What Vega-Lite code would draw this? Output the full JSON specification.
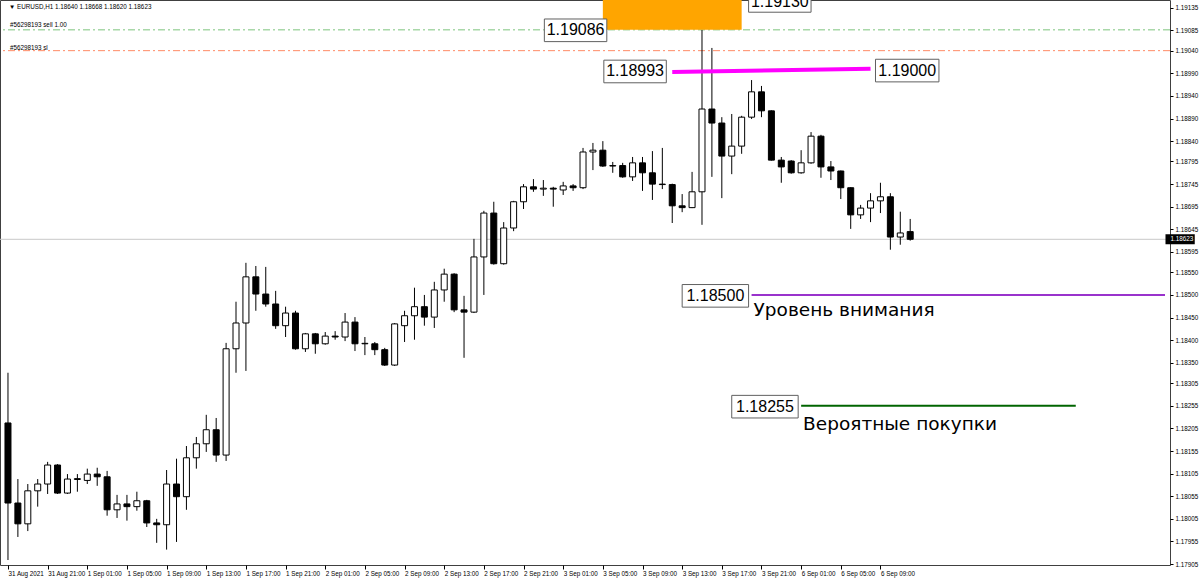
{
  "$schema": "https://vega.github.io/schema/vega-lite/v6.json",
  "width": 1170,
  "height": 565,
  "autosize": {"type": "none"},
  "padding": {"left": 0, "top": 0, "right": 30, "bottom": 14},
  "background": "white",
  "config": {
    "view": {"stroke": "#404040", "strokeWidth": 1},
    "axis": {"grid": false, "domain": false, "tickColor": "#000", "labelColor": "#000", "labelFont": "Liberation Sans", "labelFontSize": 6.3, "labelOverlap": false, "labelFlush": false, "title": null}
  },
  "datasets": {
    "candles": [
      {"i":0,"o":1.18217,"h":1.18328,"l":1.17914,"c":1.18040},
      {"i":1,"o":1.18040,"h":1.18093,"l":1.17965,"c":1.17994},
      {"i":2,"o":1.17994,"h":1.18082,"l":1.17978,"c":1.18067},
      {"i":3,"o":1.18067,"h":1.18093,"l":1.18032,"c":1.18082},
      {"i":4,"o":1.18082,"h":1.18131,"l":1.18060,"c":1.18124},
      {"i":5,"o":1.18124,"h":1.18126,"l":1.18060,"c":1.18062},
      {"i":6,"o":1.18062,"h":1.18104,"l":1.18060,"c":1.18093},
      {"i":7,"o":1.18092,"h":1.18104,"l":1.18065,"c":1.18094},
      {"i":8,"o":1.18090,"h":1.18116,"l":1.18082,"c":1.18104},
      {"i":9,"o":1.18104,"h":1.18118,"l":1.18078,"c":1.18098},
      {"i":10,"o":1.18098,"h":1.18111,"l":1.18012,"c":1.18025},
      {"i":11,"o":1.18025,"h":1.18058,"l":1.18007,"c":1.18038},
      {"i":12,"o":1.18038,"h":1.18058,"l":1.18001,"c":1.18032},
      {"i":13,"o":1.18032,"h":1.18065,"l":1.18023,"c":1.18045},
      {"i":14,"o":1.18045,"h":1.18047,"l":1.17987,"c":1.17996},
      {"i":15,"o":1.17996,"h":1.18005,"l":1.17952,"c":1.17992},
      {"i":16,"o":1.17992,"h":1.18113,"l":1.17937,"c":1.18082},
      {"i":17,"o":1.18082,"h":1.18138,"l":1.17954,"c":1.18054},
      {"i":18,"o":1.18054,"h":1.18166,"l":1.18025,"c":1.18140},
      {"i":19,"o":1.18140,"h":1.18186,"l":1.18116,"c":1.18171},
      {"i":20,"o":1.18171,"h":1.18235,"l":1.18153,"c":1.18202},
      {"i":21,"o":1.18202,"h":1.18228,"l":1.18131,"c":1.18146},
      {"i":22,"o":1.18146,"h":1.18394,"l":1.18133,"c":1.18381},
      {"i":23,"o":1.18381,"h":1.18485,"l":1.18328,"c":1.18438},
      {"i":24,"o":1.18438,"h":1.18571,"l":1.18332,"c":1.18540},
      {"i":25,"o":1.18540,"h":1.18564,"l":1.18465,"c":1.18502},
      {"i":26,"o":1.18502,"h":1.18562,"l":1.18474,"c":1.18480},
      {"i":27,"o":1.18480,"h":1.18509,"l":1.18425,"c":1.18432},
      {"i":28,"o":1.18432,"h":1.18474,"l":1.18407,"c":1.18460},
      {"i":29,"o":1.18460,"h":1.18465,"l":1.18379,"c":1.18381},
      {"i":30,"o":1.18381,"h":1.18416,"l":1.18374,"c":1.18414},
      {"i":31,"o":1.18414,"h":1.18416,"l":1.18370,"c":1.18392},
      {"i":32,"o":1.18392,"h":1.18418,"l":1.18390,"c":1.18409},
      {"i":33,"o":1.18409,"h":1.18420,"l":1.18401,"c":1.18407},
      {"i":34,"o":1.18407,"h":1.18460,"l":1.18398,"c":1.18440},
      {"i":35,"o":1.18440,"h":1.18451,"l":1.18376,"c":1.18392},
      {"i":36,"o":1.18392,"h":1.18407,"l":1.18367,"c":1.18393},
      {"i":37,"o":1.18392,"h":1.18396,"l":1.18367,"c":1.18379},
      {"i":38,"o":1.18379,"h":1.18383,"l":1.18343,"c":1.18345},
      {"i":39,"o":1.18345,"h":1.18438,"l":1.18343,"c":1.18436},
      {"i":40,"o":1.18432,"h":1.18465,"l":1.18396,"c":1.18454},
      {"i":41,"o":1.18454,"h":1.18516,"l":1.18401,"c":1.18474},
      {"i":42,"o":1.18474,"h":1.18500,"l":1.18432,"c":1.18451},
      {"i":43,"o":1.18451,"h":1.18529,"l":1.18427,"c":1.18511},
      {"i":44,"o":1.18511,"h":1.18558,"l":1.18485,"c":1.18546},
      {"i":45,"o":1.18546,"h":1.18548,"l":1.18462,"c":1.18467},
      {"i":46,"o":1.18467,"h":1.18498,"l":1.18361,"c":1.18462},
      {"i":47,"o":1.18462,"h":1.18624,"l":1.18460,"c":1.18584},
      {"i":48,"o":1.18584,"h":1.18686,"l":1.18500,"c":1.18681},
      {"i":49,"o":1.18681,"h":1.18706,"l":1.18567,"c":1.18569},
      {"i":50,"o":1.18569,"h":1.18661,"l":1.18567,"c":1.18648},
      {"i":51,"o":1.18648,"h":1.18708,"l":1.18641,"c":1.18706},
      {"i":52,"o":1.18706,"h":1.18745,"l":1.18690,"c":1.18739},
      {"i":53,"o":1.18739,"h":1.18756,"l":1.18728,"c":1.18734},
      {"i":54,"o":1.18734,"h":1.18754,"l":1.18719,"c":1.18736},
      {"i":55,"o":1.18736,"h":1.18739,"l":1.18695,"c":1.18734},
      {"i":56,"o":1.18732,"h":1.18750,"l":1.18721,"c":1.18741},
      {"i":57,"o":1.18741,"h":1.18745,"l":1.18730,"c":1.18737},
      {"i":58,"o":1.18737,"h":1.18825,"l":1.18734,"c":1.18816},
      {"i":59,"o":1.18816,"h":1.18836,"l":1.18776,"c":1.18820},
      {"i":60,"o":1.18820,"h":1.18840,"l":1.18783,"c":1.18785},
      {"i":61,"o":1.18785,"h":1.18794,"l":1.18770,"c":1.18786},
      {"i":62,"o":1.18786,"h":1.18792,"l":1.18759,"c":1.18761},
      {"i":63,"o":1.18761,"h":1.18805,"l":1.18752,"c":1.18792},
      {"i":64,"o":1.18792,"h":1.18805,"l":1.18730,"c":1.18770},
      {"i":65,"o":1.18770,"h":1.18818,"l":1.18710,"c":1.18745},
      {"i":66,"o":1.18745,"h":1.18825,"l":1.18734,"c":1.18744},
      {"i":67,"o":1.18744,"h":1.18746,"l":1.18659,"c":1.18697},
      {"i":68,"o":1.18697,"h":1.18723,"l":1.18683,"c":1.18693},
      {"i":69,"o":1.18693,"h":1.18772,"l":1.18692,"c":1.18728},
      {"i":70,"o":1.18728,"h":1.19086,"l":1.18655,"c":1.18911},
      {"i":71,"o":1.18911,"h":1.19046,"l":1.18761,"c":1.18880},
      {"i":72,"o":1.18880,"h":1.18893,"l":1.18714,"c":1.18807},
      {"i":73,"o":1.18807,"h":1.18900,"l":1.18767,"c":1.18829},
      {"i":74,"o":1.18829,"h":1.18896,"l":1.18812,"c":1.18893},
      {"i":75,"o":1.18893,"h":1.18975,"l":1.18889,"c":1.18949},
      {"i":76,"o":1.18949,"h":1.18962,"l":1.18893,"c":1.18907},
      {"i":77,"o":1.18907,"h":1.18908,"l":1.18797,"c":1.18798},
      {"i":78,"o":1.18798,"h":1.18805,"l":1.18748,"c":1.18783},
      {"i":79,"o":1.18796,"h":1.18798,"l":1.18768,"c":1.18770},
      {"i":80,"o":1.18770,"h":1.18820,"l":1.18768,"c":1.18792},
      {"i":81,"o":1.18792,"h":1.18860,"l":1.18790,"c":1.18851},
      {"i":82,"o":1.18851,"h":1.18854,"l":1.18759,"c":1.18783},
      {"i":83,"o":1.18783,"h":1.18796,"l":1.18754,"c":1.18774},
      {"i":84,"o":1.18774,"h":1.18775,"l":1.18712,"c":1.18737},
      {"i":85,"o":1.18737,"h":1.18738,"l":1.18646,"c":1.18677},
      {"i":86,"o":1.18677,"h":1.18699,"l":1.18668,"c":1.18692},
      {"i":87,"o":1.18692,"h":1.18725,"l":1.18661,"c":1.18708},
      {"i":88,"o":1.18708,"h":1.18748,"l":1.18681,"c":1.18717},
      {"i":89,"o":1.18717,"h":1.18725,"l":1.18600,"c":1.18628},
      {"i":90,"o":1.18628,"h":1.18684,"l":1.18611,"c":1.18637},
      {"i":91,"o":1.18640,"h":1.18668,"l":1.18620,"c":1.18623}
    ],
    "tags": [
      {"label":"1.19086","x1":54.1,"x2":60.4,"xc":57.25,"ytop":1.19110,"ybot":1.19060,"yc":1.19085},
      {"label":"1.19130","x1":74.7,"x2":81.0,"xc":77.85,"ytop":1.19175,"ybot":1.19125,"yc":1.19148},
      {"label":"1.18993","x1":60.1,"x2":66.4,"xc":63.25,"ytop":1.19019,"ybot":1.18969,"yc":1.18994},
      {"label":"1.19000","x1":87.5,"x2":93.9,"xc":90.7,"ytop":1.19021,"ybot":1.18971,"yc":1.18996},
      {"label":"1.18500","x1":68.0,"x2":74.7,"xc":71.35,"ytop":1.18523,"ybot":1.18473,"yc":1.18498},
      {"label":"1.18255","x1":73.0,"x2":79.7,"xc":76.35,"ytop":1.18278,"ybot":1.18228,"yc":1.18253}
    ]
  },
  "layer": [
    {
      "data": {"values": [{"p": 1.18623}]},
      "mark": {"type": "rule", "color": "#c8c8c8", "strokeWidth": 1},
      "encoding": {"y": {"field": "p", "type": "quantitative",
        "scale": {"domain": [1.17903, 1.19152], "nice": false, "zero": false},
        "axis": {"orient": "right", "tickCount": 60, "values": [1.19135,1.19085,1.1904,1.1899,1.1894,1.1889,1.1884,1.18795,1.18745,1.18695,1.18645,1.18595,1.1855,1.185,1.1845,1.184,1.1835,1.18305,1.18255,1.18205,1.18155,1.18105,1.18055,1.18005,1.17955,1.17905], "format": ".5f", "tickSize": 3, "labelPadding": 2, "labelBaseline": "middle", "labelOverlap": false, "labelFlush": false, "labelBound": false}}}
    },
    {
      "data": {"values": [{"p": 1.19086}]},
      "mark": {"type": "rule", "color": "#7cc47c", "strokeWidth": 1, "strokeDash": [7, 3, 2, 3]},
      "encoding": {"y": {"field": "p", "type": "quantitative"}}
    },
    {
      "data": {"values": [{"p": 1.19040}]},
      "mark": {"type": "rule", "color": "#ff8a65", "strokeWidth": 1, "strokeDash": [7, 3, 2, 3]},
      "encoding": {"y": {"field": "p", "type": "quantitative"}}
    },
    {
      "data": {"name": "candles"},
      "mark": {"type": "rule", "color": "#000", "strokeWidth": 1},
      "encoding": {
        "x": {"field": "i", "type": "quantitative", "scale": {"domain": [-0.3, 116.7], "nice": false, "zero": false}, "axis": {"orient": "bottom", "tickCount": 60, "values": [0,4,8,12,16,20,24,28,32,36,40,44,48,52,56,60,64,68,72,76,80,84,88], "labelExpr": "['31 Aug 2021','31 Aug 21:00','1 Sep 01:00','1 Sep 05:00','1 Sep 09:00','1 Sep 13:00','1 Sep 17:00','1 Sep 21:00','2 Sep 01:00','2 Sep 05:00','2 Sep 09:00','2 Sep 13:00','2 Sep 17:00','2 Sep 21:00','3 Sep 01:00','3 Sep 05:00','3 Sep 09:00','3 Sep 13:00','3 Sep 17:00','3 Sep 21:00','6 Sep 01:00','6 Sep 05:00','6 Sep 09:00'][round(datum.value/4)]", "labelAlign": "left", "labelBaseline": "top", "labelPadding": 1, "labelDx": 0, "tickSize": 4, "labelOverlap": false}},
        "y": {"field": "l", "type": "quantitative"},
        "y2": {"field": "h"}
      }
    },
    {
      "data": {"name": "candles"},
      "mark": {"type": "bar", "orient": "vertical", "width": 6, "stroke": "#000", "strokeWidth": 1},
      "encoding": {
        "x": {"field": "i", "type": "quantitative"},
        "y": {"field": "o", "type": "quantitative"},
        "y2": {"field": "c"},
        "fill": {"condition": {"test": "datum.c > datum.o", "value": "#ffffff"}, "value": "#000000"}
      }
    },
    {
      "data": {"values": [{"x1": 60, "x2": 74, "p1": 1.19086, "p2": 1.19165}]},
      "mark": {"type": "rect", "color": "#ffa500"},
      "encoding": {
        "x": {"field": "x1", "type": "quantitative"}, "x2": {"field": "x2"},
        "y": {"field": "p1", "type": "quantitative"}, "y2": {"field": "p2"}
      }
    },
    {
      "data": {"values": [{"x1": 67, "x2": 87, "p1": 1.18993, "p2": 1.19000}]},
      "mark": {"type": "rule", "color": "#ff00ff", "strokeWidth": 4},
      "encoding": {
        "x": {"field": "x1", "type": "quantitative"}, "x2": {"field": "x2"},
        "y": {"field": "p1", "type": "quantitative"}, "y2": {"field": "p2"}
      }
    },
    {
      "data": {"values": [{"x1": 75, "x2": 116.7, "p": 1.18500}]},
      "mark": {"type": "rule", "color": "#9932cc", "strokeWidth": 2},
      "encoding": {
        "x": {"field": "x1", "type": "quantitative"}, "x2": {"field": "x2"},
        "y": {"field": "p", "type": "quantitative"}
      }
    },
    {
      "data": {"values": [{"x1": 80, "x2": 107.7, "p": 1.18255}]},
      "mark": {"type": "rule", "color": "#006400", "strokeWidth": 2},
      "encoding": {
        "x": {"field": "x1", "type": "quantitative"}, "x2": {"field": "x2"},
        "y": {"field": "p", "type": "quantitative"}
      }
    },
    {
      "data": {"name": "tags"},
      "mark": {"type": "rect", "fill": "#ffffff", "stroke": "#606060", "strokeWidth": 1},
      "encoding": {
        "x": {"field": "x1", "type": "quantitative"}, "x2": {"field": "x2"},
        "y": {"field": "ytop", "type": "quantitative"}, "y2": {"field": "ybot"}
      }
    },
    {
      "data": {"name": "tags"},
      "mark": {"type": "text", "font": "Liberation Sans", "fontSize": 16, "color": "#000", "align": "center", "baseline": "middle"},
      "encoding": {
        "x": {"field": "xc", "type": "quantitative"},
        "y": {"field": "yc", "type": "quantitative"},
        "text": {"field": "label"}
      }
    },
    {
      "data": {"values": [
        {"x": 75.2, "p": 1.18466, "label": "Уровень внимания"},
        {"x": 80.2, "p": 1.18214, "label": "Вероятные покупки"}
      ]},
      "mark": {"type": "text", "font": "DejaVu Sans", "fontSize": 18.5, "color": "#000", "align": "left", "baseline": "middle"},
      "encoding": {
        "x": {"field": "x", "type": "quantitative"},
        "y": {"field": "p", "type": "quantitative"},
        "text": {"field": "label"}
      }
    },
    {
      "data": {"values": [
        {"x": 0.1, "p": 1.19137, "label": "▼ EURUSD,H1  1.18640 1.18668 1.18620 1.18623"},
        {"x": 0.2, "p": 1.19096, "label": "#56298193 sell 1.00"},
        {"x": 0.2, "p": 1.19045, "label": "#56298193 sl"}
      ]},
      "mark": {"type": "text", "font": "Liberation Sans", "fontSize": 6.3, "color": "#000", "align": "left", "baseline": "middle"},
      "encoding": {
        "x": {"field": "x", "type": "quantitative"},
        "y": {"field": "p", "type": "quantitative"},
        "text": {"field": "label"}
      }
    },
    {
      "data": {"values": [{"x1": 116.75, "x2": 119.7, "p1": 1.18634, "p2": 1.18612}]},
      "mark": {"type": "rect", "color": "#000000"},
      "encoding": {
        "x": {"field": "x1", "type": "quantitative"}, "x2": {"field": "x2"},
        "y": {"field": "p1", "type": "quantitative"}, "y2": {"field": "p2"}
      }
    },
    {
      "data": {"values": [{"x": 117.25, "p": 1.18623, "label": "1.18623"}]},
      "mark": {"type": "text", "font": "Liberation Sans", "fontSize": 6.3, "color": "#ffffff", "align": "left", "baseline": "middle"},
      "encoding": {
        "x": {"field": "x", "type": "quantitative"},
        "y": {"field": "p", "type": "quantitative"},
        "text": {"field": "label"}
      }
    }
  ]
}
